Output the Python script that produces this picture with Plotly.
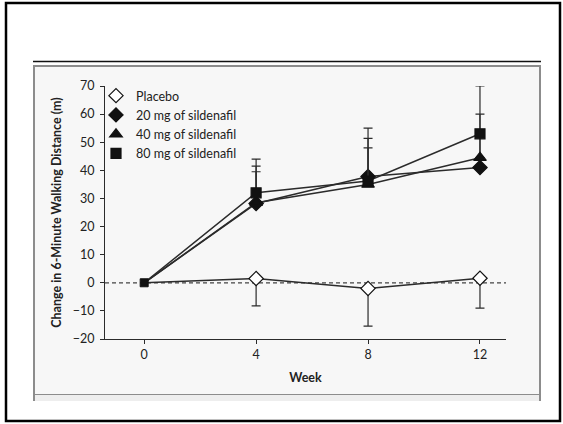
import plotly.graph_objects as go

weeks = [0, 4, 8, 12]
week_ticks = [0, 4, 8, 12]

placebo = [0, 1.5, -2.0, 1.6]
placebo_err_minus = [0, 9.7, 13.4, 10.6]

mg20 = [0, 28.2, 37.8, 41.0]
mg20_err_plus = [0, 13.3, 13.6, 11.0]

mg40 = [0, 28.5, 35.0, 44.5]
mg40_err_plus = [0, 11.0, 13.0, 15.5]

mg80 = [0, 32.0, 36.2, 53.0]
mg80_err_plus = [0, 12.0, 18.8, 17.0]

series_names = ["Placebo", "20 mg of sildenafil", "40 mg of sildenafil", "80 mg of sildenafil"]

W, H = 563, 424
L, R, T, B = 105, 57, 86, 85
PW, PH = W - L - R, H - T - B


def px(x):
    return (x - L) / PW


def py(y):
    return (H - B - y) / PH


LINE = "#2b2b2b"
FONT = "Lato"

fig = go.Figure()

specs = [
    (placebo, None, placebo_err_minus, "diamond", "white", 11),
    (mg20, mg20_err_plus, None, "diamond", "#111111", 11),
    (mg40, mg40_err_plus, None, "triangle-up", "#111111", 11),
    (mg80, mg80_err_plus, None, "square", "#111111", 10),
]

# connecting lines (full series including baseline)
for (vals, plus, minus, sym, fill, size), name in zip(specs, series_names):
    fig.add_trace(go.Scatter(
        x=weeks, y=vals, mode="lines", showlegend=False, hoverinfo="skip",
        line=dict(color=LINE, width=1.5),
    ))

# markers + error bars for follow-up weeks
for (vals, plus, minus, sym, fill, size), name in zip(specs, series_names):
    if plus is not None:
        err = dict(type="data", symmetric=False, array=plus[1:], arrayminus=[0] * len(plus[1:]),
                   color=LINE, thickness=1.2, width=4.5)
    else:
        err = dict(type="data", symmetric=False, array=[0] * len(minus[1:]), arrayminus=minus[1:],
                   color=LINE, thickness=1.2, width=4.5)
    fig.add_trace(go.Scatter(
        x=weeks[1:], y=vals[1:], mode="markers", name=name, showlegend=True,
        marker=dict(symbol=sym, size=size, color=fill, line=dict(color="#111111", width=1.2)),
        error_y=err, cliponaxis=False,
    ))

# shared baseline point
fig.add_trace(go.Scatter(
    x=weeks[:1], y=mg80[:1], mode="markers", showlegend=False,
    marker=dict(symbol="square", size=8, color="#111111", line=dict(color="#111111", width=1)),
))

shapes = []
shapes.append(dict(type="rect", xref="paper", yref="paper", x0=px(6), x1=px(560), y0=py(421), y1=py(3),
                   line=dict(color="black", width=2.5), fillcolor="rgba(0,0,0,0)", layer="below"))
shapes.append(dict(type="line", xref="paper", yref="paper", x0=px(33), x1=px(541), y0=py(61.5), y1=py(61.5),
                   line=dict(color="#111111", width=1.6), layer="below"))
shapes.append(dict(type="rect", xref="paper", yref="paper", x0=px(34), x1=px(540), y0=py(395), y1=py(66),
                   line=dict(color="#8c8c8c", width=2), fillcolor="#f7f7f7", layer="below"))
shapes.append(dict(type="rect", xref="paper", yref="paper", x0=px(34), x1=px(540), y0=py(401), y1=py(395),
                   line=dict(width=0), fillcolor="#eeeeee", layer="below"))
for xv in (34, 540):
    shapes.append(dict(type="line", xref="paper", yref="paper", x0=px(xv), x1=px(xv), y0=py(401), y1=py(395),
                       line=dict(color="#8c8c8c", width=2), layer="below"))
shapes.append(dict(type="line", xref="paper", yref="y", x0=0, x1=1, y0=0, y1=0,
                   line=dict(color="#444444", width=1.2, dash="4px,3px"), layer="below"))

fig.update_layout(
    width=W, height=H,
    margin=dict(l=L, r=R, t=T, b=B, autoexpand=False),
    paper_bgcolor="white", plot_bgcolor="rgba(0,0,0,0)",
    font=dict(family=FONT, size=12, color="#222222"),
    shapes=shapes,
    showlegend=True,
    legend=dict(x=px(96), y=py(81), xanchor="left", yanchor="top",
                bgcolor="rgba(0,0,0,0)", font=dict(family=FONT, size=12.5, color="#222222"),
                itemwidth=30, tracegroupgap=0),
    xaxis=dict(range=[-1.4, 12.93], tickvals=week_ticks, ticktext=[str(t) for t in week_ticks],
               showgrid=False, zeroline=False, showline=True, linecolor=LINE, linewidth=1.2,
               ticks="outside", ticklen=4, tickwidth=1.2, tickcolor=LINE,
               tickfont=dict(family=FONT, size=12.5),
               title=dict(text="Week", font=dict(family=FONT, size=12.5, weight="bold"), standoff=12)),
    yaxis=dict(range=[-20, 70], dtick=10, showgrid=False, zeroline=False, showline=True,
               linecolor=LINE, linewidth=1.2, ticks="outside", ticklen=4, tickwidth=1.2, tickcolor=LINE,
               tickfont=dict(family=FONT, size=12.5), ticklabelstandoff=3,
               title=dict(text="Change in 6-Minute Walking Distance (m)",
                          font=dict(family=FONT, size=12.5, weight="bold"), standoff=8)),
)

fig.write_html("out.html", config={"displayModeBar": False},
               post_script="document.body.style.margin='0';")
